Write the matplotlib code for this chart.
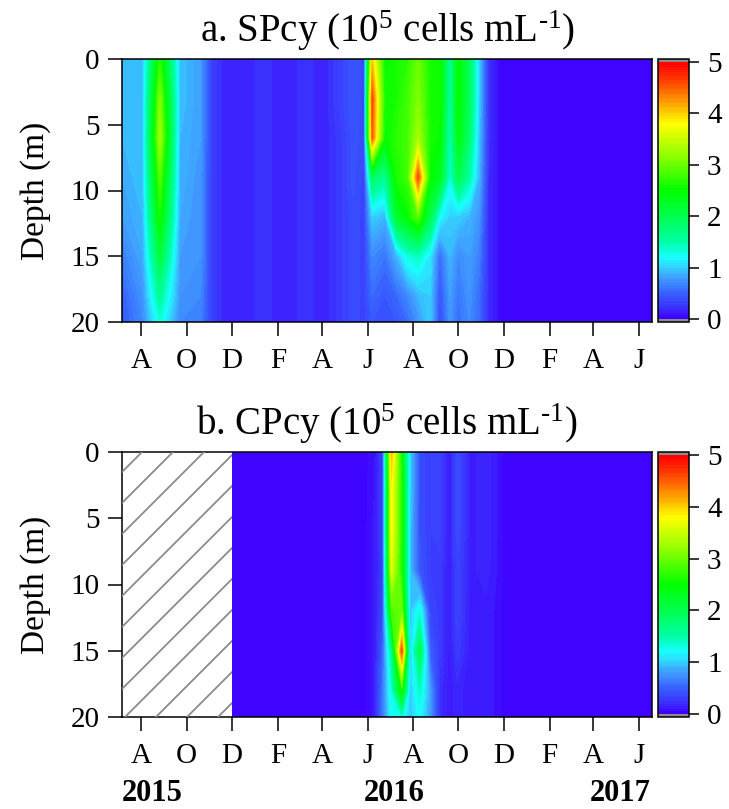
import numpy as np
import matplotlib
matplotlib.use("Agg")
import matplotlib.pyplot as plt
import matplotlib.dates as mdates
from matplotlib.colors import LinearSegmentedColormap
from matplotlib.patches import Rectangle

plt.rcParams['font.family'] = ['Liberation Serif', 'DejaVu Serif']
plt.rcParams['mathtext.fontset'] = 'custom'
plt.rcParams['mathtext.rm'] = 'Liberation Serif'
plt.rcParams['mathtext.it'] = 'Liberation Serif:italic'

# sampling depths (m)
depths = [0, 3, 6, 9, 12, 15, 18, 20]

# a. SPcy, 10^5 cells/mL, one depth profile per sampling date
sp_dates = ['2015-07-06', '2015-08-03', '2015-08-26', '2015-09-22', '2015-10-20',
            '2015-11-03', '2015-11-20', '2015-12-15', '2016-01-12', '2016-02-10',
            '2016-03-09', '2016-04-05', '2016-04-25', '2016-05-12', '2016-05-27',
            '2016-06-07', '2016-06-24', '2016-07-10', '2016-07-25', '2016-08-08',
            '2016-08-24', '2016-09-06', '2016-09-20', '2016-10-01', '2016-10-16',
            '2016-10-29', '2016-11-11', '2016-11-28', '2017-01-10', '2017-02-15',
            '2017-03-20', '2017-04-20', '2017-05-20', '2017-06-19']
sp_profiles = [
    [0.9, 0.9, 0.9, 0.85, 0.8, 0.65, 0.5, 0.45],
    [0.95, 0.95, 0.95, 0.95, 0.9, 0.85, 0.75, 0.7],
    [2.7, 3.1, 3.3, 2.9, 2.6, 2.1, 1.6, 1.3],
    [0.95, 0.95, 0.9, 0.9, 0.85, 0.8, 0.75, 0.7],
    [0.8, 0.8, 0.8, 0.75, 0.75, 0.75, 0.7, 0.65],
    [0.32, 0.32, 0.32, 0.32, 0.32, 0.32, 0.32, 0.32],
    [0.17, 0.17, 0.17, 0.17, 0.17, 0.17, 0.17, 0.17],
    [0.17, 0.17, 0.17, 0.17, 0.17, 0.17, 0.17, 0.17],
    [0.22, 0.22, 0.22, 0.22, 0.22, 0.22, 0.22, 0.22],
    [0.17, 0.17, 0.17, 0.17, 0.17, 0.17, 0.17, 0.17],
    [0.22, 0.22, 0.22, 0.22, 0.22, 0.22, 0.22, 0.22],
    [0.17, 0.17, 0.17, 0.17, 0.17, 0.17, 0.17, 0.17],
    [0.32, 0.32, 0.28, 0.28, 0.28, 0.28, 0.28, 0.28],
    [0.45, 0.45, 0.42, 0.42, 0.38, 0.38, 0.38, 0.38],
    [0.38, 0.38, 0.38, 0.33, 0.33, 0.33, 0.33, 0.33],
    [4.0, 4.6, 4.5, 1.9, 1.0, 0.7, 0.55, 0.45],
    [2.5, 2.6, 2.5, 1.6, 0.9, 0.6, 0.45, 0.4],
    [2.6, 2.6, 2.7, 2.6, 2.2, 0.9, 0.55, 0.45],
    [2.7, 2.8, 2.8, 2.8, 2.5, 1.3, 0.7, 0.55],
    [3.0, 3.1, 3.3, 4.6, 2.9, 1.4, 0.9, 0.75],
    [2.6, 2.6, 2.6, 2.5, 2.0, 1.1, 1.0, 1.0],
    [2.6, 2.6, 2.5, 2.3, 1.2, 0.55, 0.42, 0.38],
    [1.5, 1.5, 1.4, 1.3, 1.0, 0.9, 0.8, 0.75],
    [2.5, 2.5, 2.4, 2.0, 1.0, 0.7, 0.6, 0.55],
    [1.9, 1.9, 1.8, 1.5, 0.9, 0.8, 0.75, 0.7],
    [1.0, 1.0, 0.95, 0.9, 0.75, 0.65, 0.55, 0.55],
    [0.22, 0.22, 0.22, 0.2, 0.2, 0.2, 0.2, 0.2],
    [0.03, 0.03, 0.03, 0.03, 0.03, 0.03, 0.03, 0.03],
    [0.03, 0.03, 0.03, 0.03, 0.03, 0.03, 0.03, 0.03],
    [0.03, 0.03, 0.03, 0.03, 0.03, 0.03, 0.03, 0.03],
    [0.03, 0.03, 0.03, 0.03, 0.03, 0.03, 0.03, 0.03],
    [0.03, 0.03, 0.03, 0.03, 0.03, 0.03, 0.03, 0.03],
    [0.03, 0.03, 0.03, 0.03, 0.03, 0.03, 0.03, 0.03],
    [0.03, 0.03, 0.03, 0.03, 0.03, 0.03, 0.03, 0.03],
]

# b. CPcy, no data before Dec 2015
cp_dates = ['2015-12-01', '2016-01-12', '2016-03-08', '2016-04-25', '2016-05-28',
            '2016-06-10', '2016-06-21', '2016-07-03', '2016-07-17', '2016-07-28',
            '2016-08-10', '2016-08-24', '2016-09-06', '2016-09-19', '2016-09-30',
            '2016-10-18', '2016-11-07', '2016-11-18', '2016-12-03', '2017-01-10',
            '2017-02-15', '2017-03-20', '2017-04-20', '2017-05-20', '2017-06-19']
cp_profiles = [
    [0.03, 0.03, 0.03, 0.03, 0.03, 0.03, 0.03, 0.03],
    [0.03, 0.03, 0.03, 0.03, 0.03, 0.03, 0.03, 0.03],
    [0.03, 0.03, 0.03, 0.03, 0.03, 0.03, 0.03, 0.03],
    [0.03, 0.03, 0.03, 0.03, 0.03, 0.03, 0.03, 0.03],
    [0.03, 0.03, 0.03, 0.03, 0.03, 0.03, 0.03, 0.03],
    [0.08, 0.1, 0.12, 0.12, 0.12, 0.12, 0.12, 0.12],
    [0.3, 0.3, 0.3, 0.3, 0.35, 0.5, 0.6, 0.6],
    [4.1, 3.8, 3.8, 3.6, 2.8, 1.6, 1.3, 1.2],
    [2.5, 2.6, 2.6, 2.6, 3.0, 4.6, 2.6, 1.3],
    [1.0, 1.0, 0.95, 0.95, 0.95, 0.95, 0.95, 0.95],
    [0.4, 0.4, 0.4, 0.45, 1.3, 2.0, 1.4, 1.2],
    [0.3, 0.3, 0.3, 0.3, 0.35, 0.5, 0.8, 0.8],
    [0.32, 0.32, 0.32, 0.28, 0.28, 0.28, 0.22, 0.22],
    [0.13, 0.13, 0.13, 0.13, 0.13, 0.13, 0.12, 0.12],
    [0.38, 0.38, 0.38, 0.33, 0.33, 0.28, 0.18, 0.18],
    [0.13, 0.13, 0.13, 0.13, 0.12, 0.12, 0.1, 0.1],
    [0.18, 0.18, 0.18, 0.18, 0.13, 0.13, 0.12, 0.12],
    [0.13, 0.13, 0.13, 0.12, 0.1, 0.1, 0.1, 0.1],
    [0.03, 0.03, 0.03, 0.03, 0.03, 0.03, 0.03, 0.03],
    [0.03, 0.03, 0.03, 0.03, 0.03, 0.03, 0.03, 0.03],
    [0.03, 0.03, 0.03, 0.03, 0.03, 0.03, 0.03, 0.03],
    [0.03, 0.03, 0.03, 0.03, 0.03, 0.03, 0.03, 0.03],
    [0.03, 0.03, 0.03, 0.03, 0.03, 0.03, 0.03, 0.03],
    [0.03, 0.03, 0.03, 0.03, 0.03, 0.03, 0.03, 0.03],
    [0.03, 0.03, 0.03, 0.03, 0.03, 0.03, 0.03, 0.03],
]

x_start, x_end = '2015-07-06', '2017-06-19'
tick_dates = ['2015-08-01', '2015-10-01', '2015-12-01', '2016-02-01', '2016-04-01',
              '2016-06-01', '2016-08-01', '2016-10-01', '2016-12-01', '2017-02-01',
              '2017-04-01', '2017-06-01']
tick_labels = ['A', 'O', 'D', 'F', 'A', 'J', 'A', 'O', 'D', 'F', 'A', 'J']
years = ['2015', '2016', '2017']

cmap = LinearSegmentedColormap.from_list('pal', [
    (0.00, (0.25, 0.00, 1.00)),
    (0.04, (0.23, 0.18, 1.00)),
    (0.10, (0.22, 0.38, 1.00)),
    (0.16, (0.25, 0.62, 1.00)),
    (0.20, (0.20, 0.82, 1.00)),
    (0.24, (0.10, 1.00, 1.00)),
    (0.30, (0.00, 1.00, 0.65)),
    (0.40, (0.00, 1.00, 0.30)),
    (0.50, (0.00, 1.00, 0.00)),
    (0.62, (0.50, 1.00, 0.00)),
    (0.76, (1.00, 1.00, 0.00)),
    (0.86, (1.00, 0.55, 0.00)),
    (0.94, (1.00, 0.20, 0.00)),
    (1.00, (1.00, 0.00, 0.00)),
])
cmap.set_under('#8c8c8c')
cmap.set_over('#8c8c8c')
levels = np.linspace(0, 5, 101)

fig = plt.figure(figsize=(7.29, 8.09), dpi=100)
W, H = 729.0, 809.0
ax_a = fig.add_axes([122 / W, 1 - 322 / H, 530 / W, 263 / H])
ax_b = fig.add_axes([122 / W, 1 - 717 / H, 530 / W, 265 / H])
cax_a = fig.add_axes([658 / W, 1 - 322 / H, 31 / W, 263 / H])
cax_b = fig.add_axes([658 / W, 1 - 717 / H, 31 / W, 265 / H])

x0, x1 = mdates.datestr2num([x_start, x_end])
ticks = mdates.datestr2num(tick_dates)

panels = [
    (ax_a, cax_a, sp_dates, sp_profiles, 'a. SPcy (10$^5$ cells mL$^{\\text{-}1}$)'),
    (ax_b, cax_b, cp_dates, cp_profiles, 'b. CPcy (10$^5$ cells mL$^{\\text{-}1}$)'),
]
for ax, cax, dates, prof, title in panels:
    xs = mdates.datestr2num(dates)
    X, Y = np.meshgrid(xs, depths)
    Z = np.array(prof).T
    cs = ax.contourf(X, Y, Z, levels=levels, cmap=cmap, extend='both')
    ax.set_xlim(x0, x1)
    ax.set_ylim(20, 0)
    ax.set_yticks([0, 5, 10, 15, 20])
    ax.set_xticks(ticks)
    ax.set_xticklabels(tick_labels)
    ax.tick_params(axis='both', direction='out', length=10, width=1.1,
                   labelsize=21, color='black')
    ax.tick_params(axis='x', pad=9)
    ax.tick_params(axis='y', pad=6)
    for s in ax.spines.values():
        s.set_linewidth(1.1)
    ax.set_ylabel('Depth (m)', fontsize=24, labelpad=14)
    ax.set_title(title, fontsize=28, pad=12)

    cb = fig.colorbar(cs, cax=cax, extendrect=True, extendfrac=0.012,
                      ticks=[0, 1, 2, 3, 4, 5])
    cb.outline.set_linewidth(1.1)
    cax.tick_params(direction='out', length=7, width=1.1, labelsize=21, pad=6)
    cax.set_yticklabels(['0', '1', '2', '3', '4', '5'])

# hatched no-data area in panel b
nodata_end = mdates.datestr2num(cp_dates[0])
box = Rectangle((x0, 0), nodata_end - x0, 20, facecolor='white', edgecolor='none',
                zorder=2)
ax_b.add_patch(box)
bw, bh = 530.0, 265.0
for c in np.arange(-bw, bh, 31.0):
    ln, = ax_b.plot([0, 1], [c / bh, (bw + c) / bh], transform=ax_b.transAxes,
                    color='#8a8a8a', lw=1.3, zorder=3)
    ln.set_clip_path(box)

fig.text(122 / W, 1 - 801 / H, years[0], fontsize=22, fontweight='bold',
         ha='left', va='baseline')
fig.text(394 / W, 1 - 801 / H, years[1], fontsize=22, fontweight='bold',
         ha='center', va='baseline')
fig.text(651 / W, 1 - 801 / H, years[2], fontsize=22, fontweight='bold',
         ha='right', va='baseline')

fig.savefig('out.png', dpi=100)
